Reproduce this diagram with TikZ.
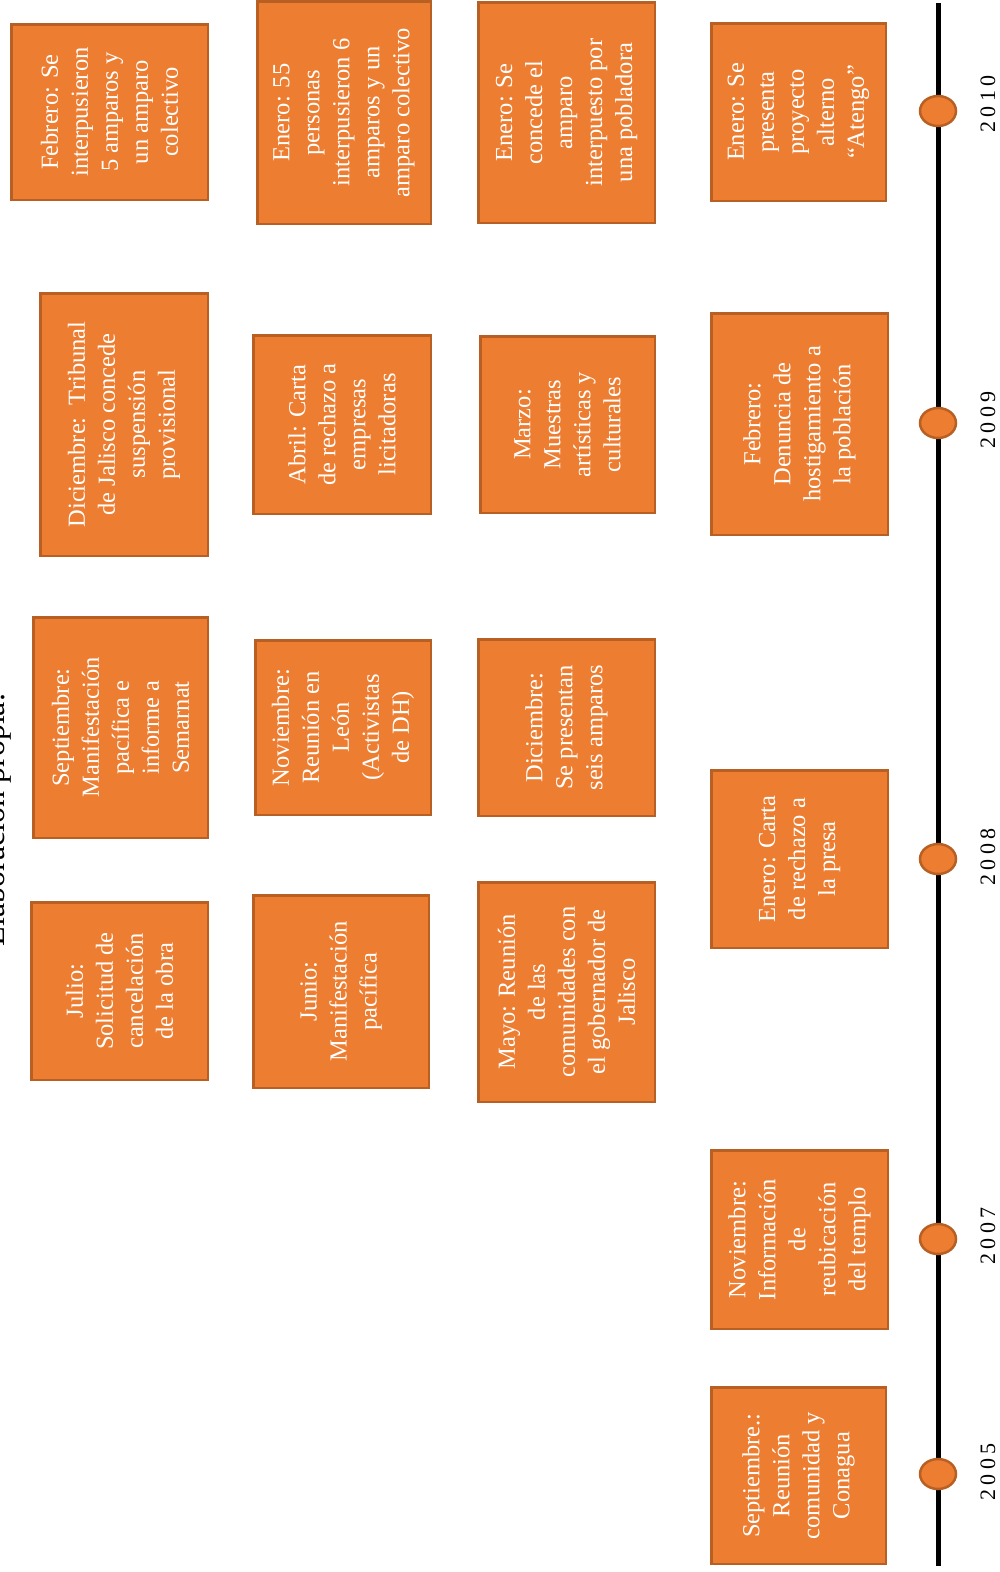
\documentclass[tikz,border=0pt]{standalone}
\usepackage{fontspec}
\setmainfont{Liberation Serif}
\newfontfamily\yearfont[LetterSpace=20]{Liberation Serif}
\usetikzlibrary{shapes.geometric}
\definecolor{evfill}{HTML}{ED7D31}
\definecolor{evdraw}{HTML}{B85F23}
\begin{document}
\begin{tikzpicture}[x=1pt,y=-1pt,
  evbox/.style={rectangle, rotate=90, fill=evfill, draw=evdraw, line width=2.5pt,
    text=white, font=\fontsize{24.5}{30}\selectfont, align=center,
    inner sep=0pt, outer sep=0pt},
  yeardot/.style={ellipse, fill=evfill, draw=evdraw, line width=2.5pt,
    minimum width=36pt, minimum height=30pt, inner sep=0pt},
  yearlbl/.style={rotate=90, font=\yearfont\fontsize{22}{26}\selectfont, inner sep=0pt}]
\useasboundingbox (0,0) rectangle (1000,1572);

% title (cut off at the left edge)
\node[rotate=90, anchor=base, font=\fontsize{32}{38}\selectfont, inner sep=0pt] (title) at (5,820) {Elaboración propia.};

% timeline
\coordinate (ltop) at (938,3);
\coordinate (lbot) at (938,1566);
\draw[line width=5pt] (ltop) -- (lbot);

\node[yeardot] (c2010) at (938,111) {};
\node[yeardot] (c2009) at (938,423) {};
\node[yeardot] (c2008) at (938,859) {};
\node[yeardot] (c2007) at (938,1239) {};
\node[yeardot] (c2005) at (938,1474) {};

\node[yearlbl] (y2010) at (988,104) {2010};
\node[yearlbl] (y2009) at (988,420) {2009};
\node[yearlbl] (y2008) at (988,857) {2008};
\node[yearlbl] (y2007) at (988,1236) {2007};
\node[yearlbl] (y2005) at (988,1472) {2005};

% column 1
\node[evbox, minimum width=175.5pt, minimum height=196.5pt] (A) at (109.5,112)
  {Febrero: Se\\interpusieron\\5 amparos y\\un amparo\\colectivo};
\node[evbox, minimum width=262.5pt, minimum height=167.5pt] (B) at (124,424.5)
  {Diciembre:\ \ Tribunal\\de Jalisco concede\\suspensión\\provisional};
\node[evbox, minimum width=220.5pt, minimum height=174.5pt] (C) at (120.5,727.5)
  {Septiembre:\\Manifestación\\pacífica e\\informe a\\Semarnat};
\node[evbox, minimum width=177.5pt, minimum height=176.5pt] (D) at (119.5,991)
  {Julio:\\Solicitud de\\cancelación\\de la obra};

% column 2
\node[evbox, minimum width=222.5pt, minimum height=173.5pt] (E) at (344,112.5)
  {Enero: 55\\personas\\interpusieron 6\\amparos y un\\amparo colectivo};
\node[evbox, minimum width=178.5pt, minimum height=177.5pt] (F) at (342,424.5)
  {Abril: Carta\\de rechazo a\\empresas\\licitadoras};
\node[evbox, minimum width=174.5pt, minimum height=175.5pt] (G) at (343,727.5)
  {Noviembre:\\Reunión en\\León\\(Activistas\\de DH)};
\node[evbox, minimum width=192.5pt, minimum height=175.5pt] (H) at (341,991.5)
  {Junio:\\Manifestación\\pacífica};

% column 3
\node[evbox, minimum width=220.5pt, minimum height=176.5pt] (I) at (566.5,112.5)
  {Enero: Se\\concede el\\amparo\\interpuesto por\\una pobladora};
\node[evbox, minimum width=176.5pt, minimum height=174.5pt] (J) at (567.5,424.5)
  {Marzo:\\Muestras\\artísticas y\\culturales};
\node[evbox, minimum width=176.5pt, minimum height=176.5pt] (K) at (566.5,727.5)
  {Diciembre:\\Se presentan\\seis amparos};
\node[evbox, minimum width=219.5pt, minimum height=176.5pt] (L) at (566.5,992)
  {Mayo: Reunión\\de las\\comunidades con\\el gobernador de\\Jalisco};

% column 4
\node[evbox, minimum width=177.5pt, minimum height=174.5pt] (M) at (798.5,112)
  {Enero: Se\\presenta\\proyecto\\alterno\\“Atengo”};
\node[evbox, minimum width=221.5pt, minimum height=176.5pt] (N) at (799.5,424)
  {Febrero:\\Denuncia de\\hostigamiento a\\la población};
\node[evbox, minimum width=177.5pt, minimum height=176.5pt] (O) at (799.5,859)
  {Enero: Carta\\de rechazo a\\la presa};
\node[evbox, minimum width=178.5pt, minimum height=176.5pt] (P) at (799.5,1239.5)
  {Noviembre:\\Información\\de\\reubicación\\del templo};
\node[evbox, minimum width=176.5pt, minimum height=174.5pt] (Q) at (798.5,1475.5)
  {Septiembre.:\\Reunión\\comunidad y\\Conagua};
\end{tikzpicture}
\end{document}
